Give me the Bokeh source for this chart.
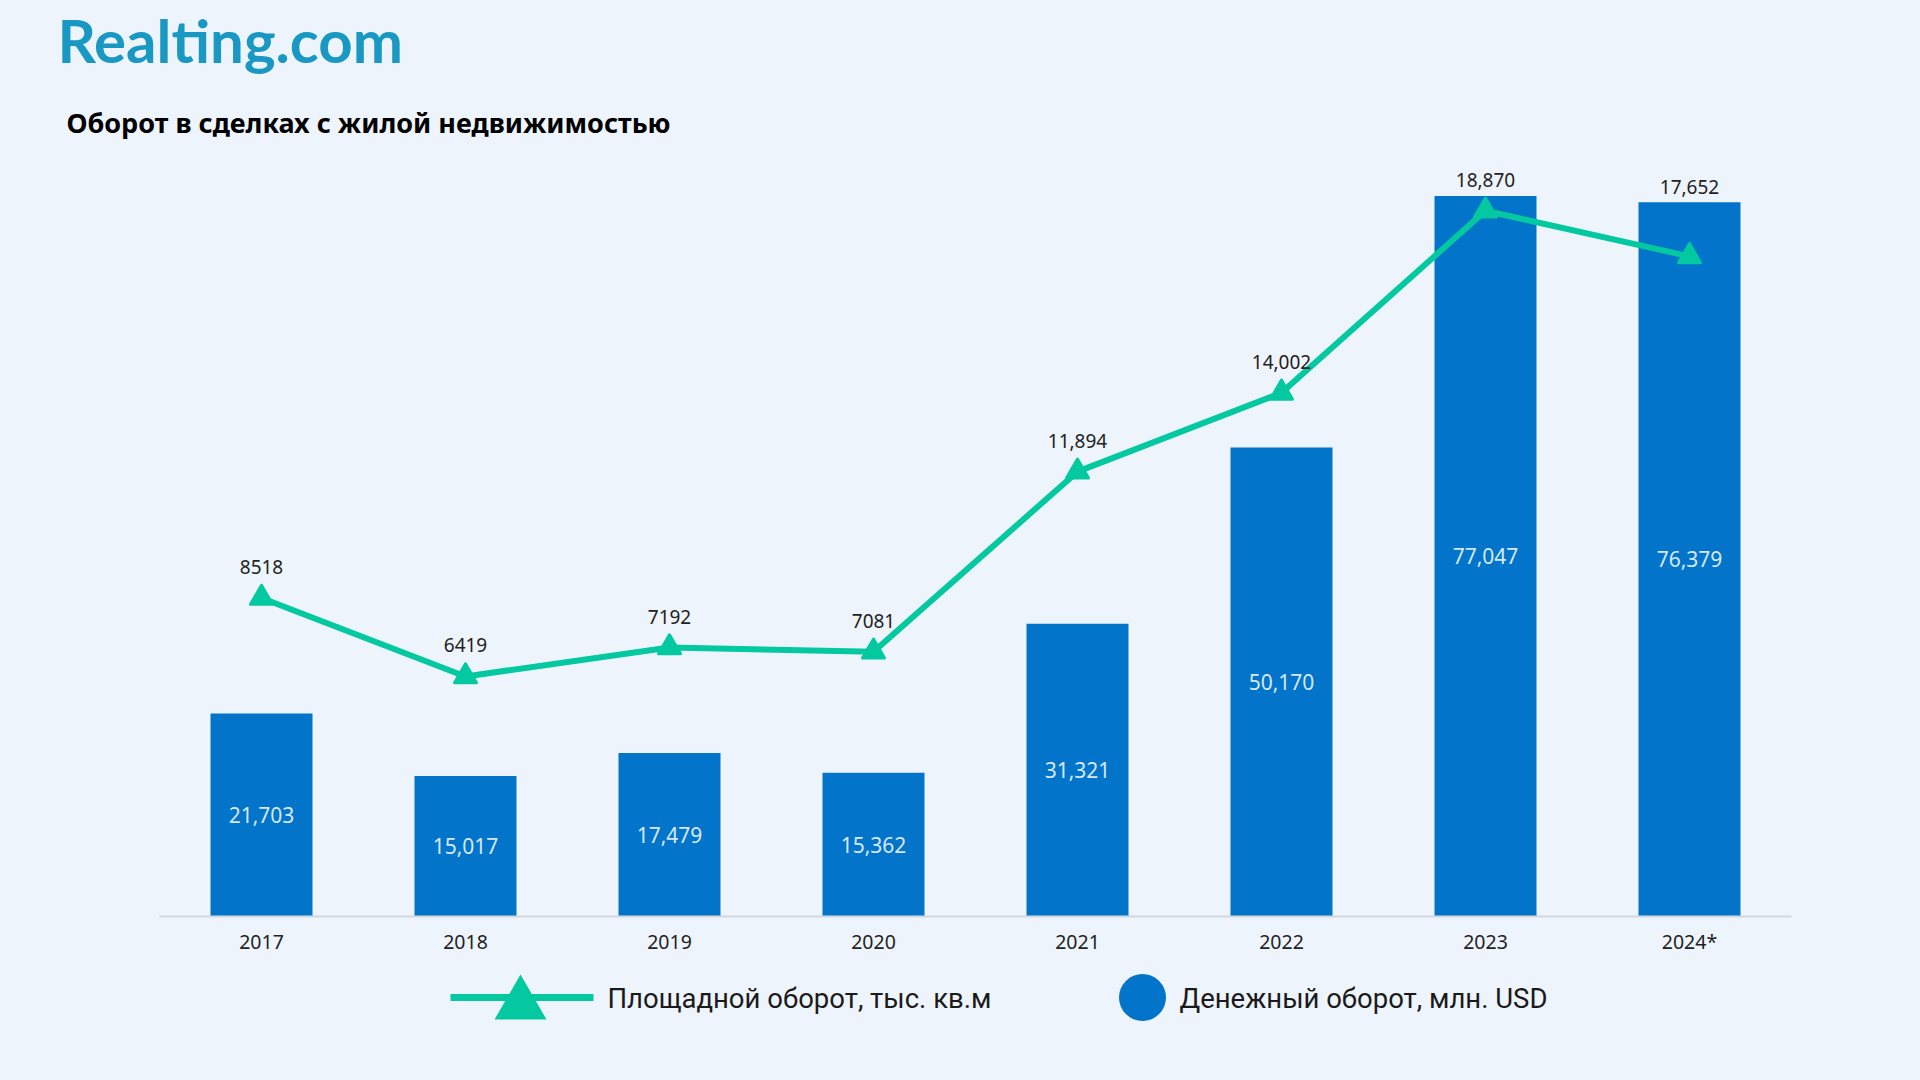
from bokeh.plotting import figure
from bokeh.models import Range1d, FixedTicker
from bokeh.core.properties import value
from bokeh.embed import file_html
from bokeh.resources import INLINE

# ---------------- data ----------------
years = ["2017", "2018", "2019", "2020", "2021", "2022", "2023", "2024*"]
money = [21703, 15017, 17479, 15362, 31321, 50170, 77047, 76379]      # млн. USD
area = [8518, 6419, 7192, 7081, 11894, 14002, 18870, 17652]            # тыс. кв.м
area_labels = ["8518", "6419", "7192", "7081", "11,894", "14,002", "18,870", "17,652"]
money_labels = ["21,703", "15,017", "17,479", "15,362", "31,321", "50,170", "77,047", "76,379"]
legend_labels = ["Площадной оборот, тыс. кв.м", "Денежный оборот, млн. USD"]
title_text = "Оборот в сделках с жилой недвижимостью"
logo_text = "Realting.com"

# ---------------- style / layout ----------------
BG = "#EEF4FB"
BAR = "#0274C9"
LINE = "#03C8A0"
BAR_TXT = "#D6E8F7"
DARK = "#222222"

W, H = 1920, 1080
AX_L, AX_R = 159, 1791          # axis extent in pixels
BASE = 916                      # pixel y of the zero line
PLOT_H = 748                    # pixels from zero line to top value
BAR_MAX, LINE_MAX = 80000, 20000
n = len(years)
cw = (AX_R - AX_L) / n          # pixels per category
bpp = BAR_MAX / PLOT_H
lpp = LINE_MAX / PLOT_H

xs = [i + 0.5 for i in range(n)]

def ux(px):
    return (px - AX_L) / cw

def by(py):
    return (BASE - py) * bpp

p = figure(width=W, height=H,
           x_range=Range1d(ux(0), ux(W)),
           y_range=Range1d(by(H), by(0)),
           output_backend="svg", toolbar_location=None,
           y_axis_location=None,
           min_border_left=0, min_border_right=0,
           min_border_top=0, min_border_bottom=0)
p.extra_y_ranges = {"area": Range1d(by(H) / bpp * lpp, by(0) / bpp * lpp)}

p.background_fill_color = BG
p.border_fill_color = BG
p.outline_line_color = None
p.xgrid.visible = False
p.ygrid.visible = False

ax = p.xaxis[0]
ax.fixed_location = 0
ax.bounds = (0, n)
ax.ticker = FixedTicker(ticks=xs)
ax.major_label_overrides = {x: y for x, y in zip(xs, years)}
ax.axis_line_color = "#D3D8DE"
ax.axis_line_width = 2
ax.major_tick_line_color = None
ax.minor_tick_line_color = None
ax.major_label_standoff = 5
ax.major_label_text_font = "Noto Sans"
ax.major_label_text_font_size = "19.5px"
ax.major_label_text_color = DARK

# bars
p.vbar(x=xs, top=money, width=0.5, fill_color=BAR, line_color=None)
p.text(x=xs, y=[m / 2 for m in money], text=money_labels,
       text_align="center", text_baseline="middle", text_color=BAR_TXT,
       text_font=value("Noto Sans"), text_font_size="21px")

# line
p.line(x=xs, y=area, y_range_name="area", line_color=LINE, line_width=6,
       line_join="round")
p.scatter(x=xs, y=area, y_range_name="area", marker="triangle", size=22,
          fill_color=LINE, line_color=LINE, line_width=3, line_join="round")
lab_y = [max(a + 31 * lpp, m * LINE_MAX / BAR_MAX + 15 * lpp) for a, m in zip(area, money)]
p.text(x=xs, y=lab_y, y_range_name="area", text=area_labels,
       text_align="center", text_baseline="middle", text_color=DARK,
       text_font=value("Noto Sans"), text_font_size="19px")

# legend (drawn manually)
y_leg = by(997)
p.line(x=[ux(450), ux(593)], y=[y_leg, y_leg], line_color=LINE, line_width=7)
p.scatter(x=[ux(520)], y=[y_leg - 7 * bpp], marker="triangle", size=52,
          fill_color=LINE, line_color=None)
p.scatter(x=[ux(1142)], y=[y_leg], marker="circle", size=47,
          fill_color=BAR, line_color=None)
p.text(x=[ux(607), ux(1179)], y=[by(998), by(998)], text=legend_labels,
       text_align="left", text_baseline="middle", text_color="#1A1A1A",
       text_font=value("Roboto"), text_font_size="27.5px")

# logo and title
p.text(x=[ux(57)], y=[by(39)], text=[logo_text],
       text_font=value("Lato"), text_font_style="bold", text_font_size="60px",
       text_color="#1898C2", text_align="left", text_baseline="middle")
p.text(x=[ux(66)], y=[by(122)], text=[title_text],
       text_font=value("Noto Sans"), text_font_style="bold", text_font_size="27px",
       text_color="#000000", text_align="left", text_baseline="middle")

html = file_html(p, INLINE)
html = html.replace("<head>", "<head><style>html,body{background:#EEF4FB;}</style>", 1)
open("out.html", "w").write(html)
